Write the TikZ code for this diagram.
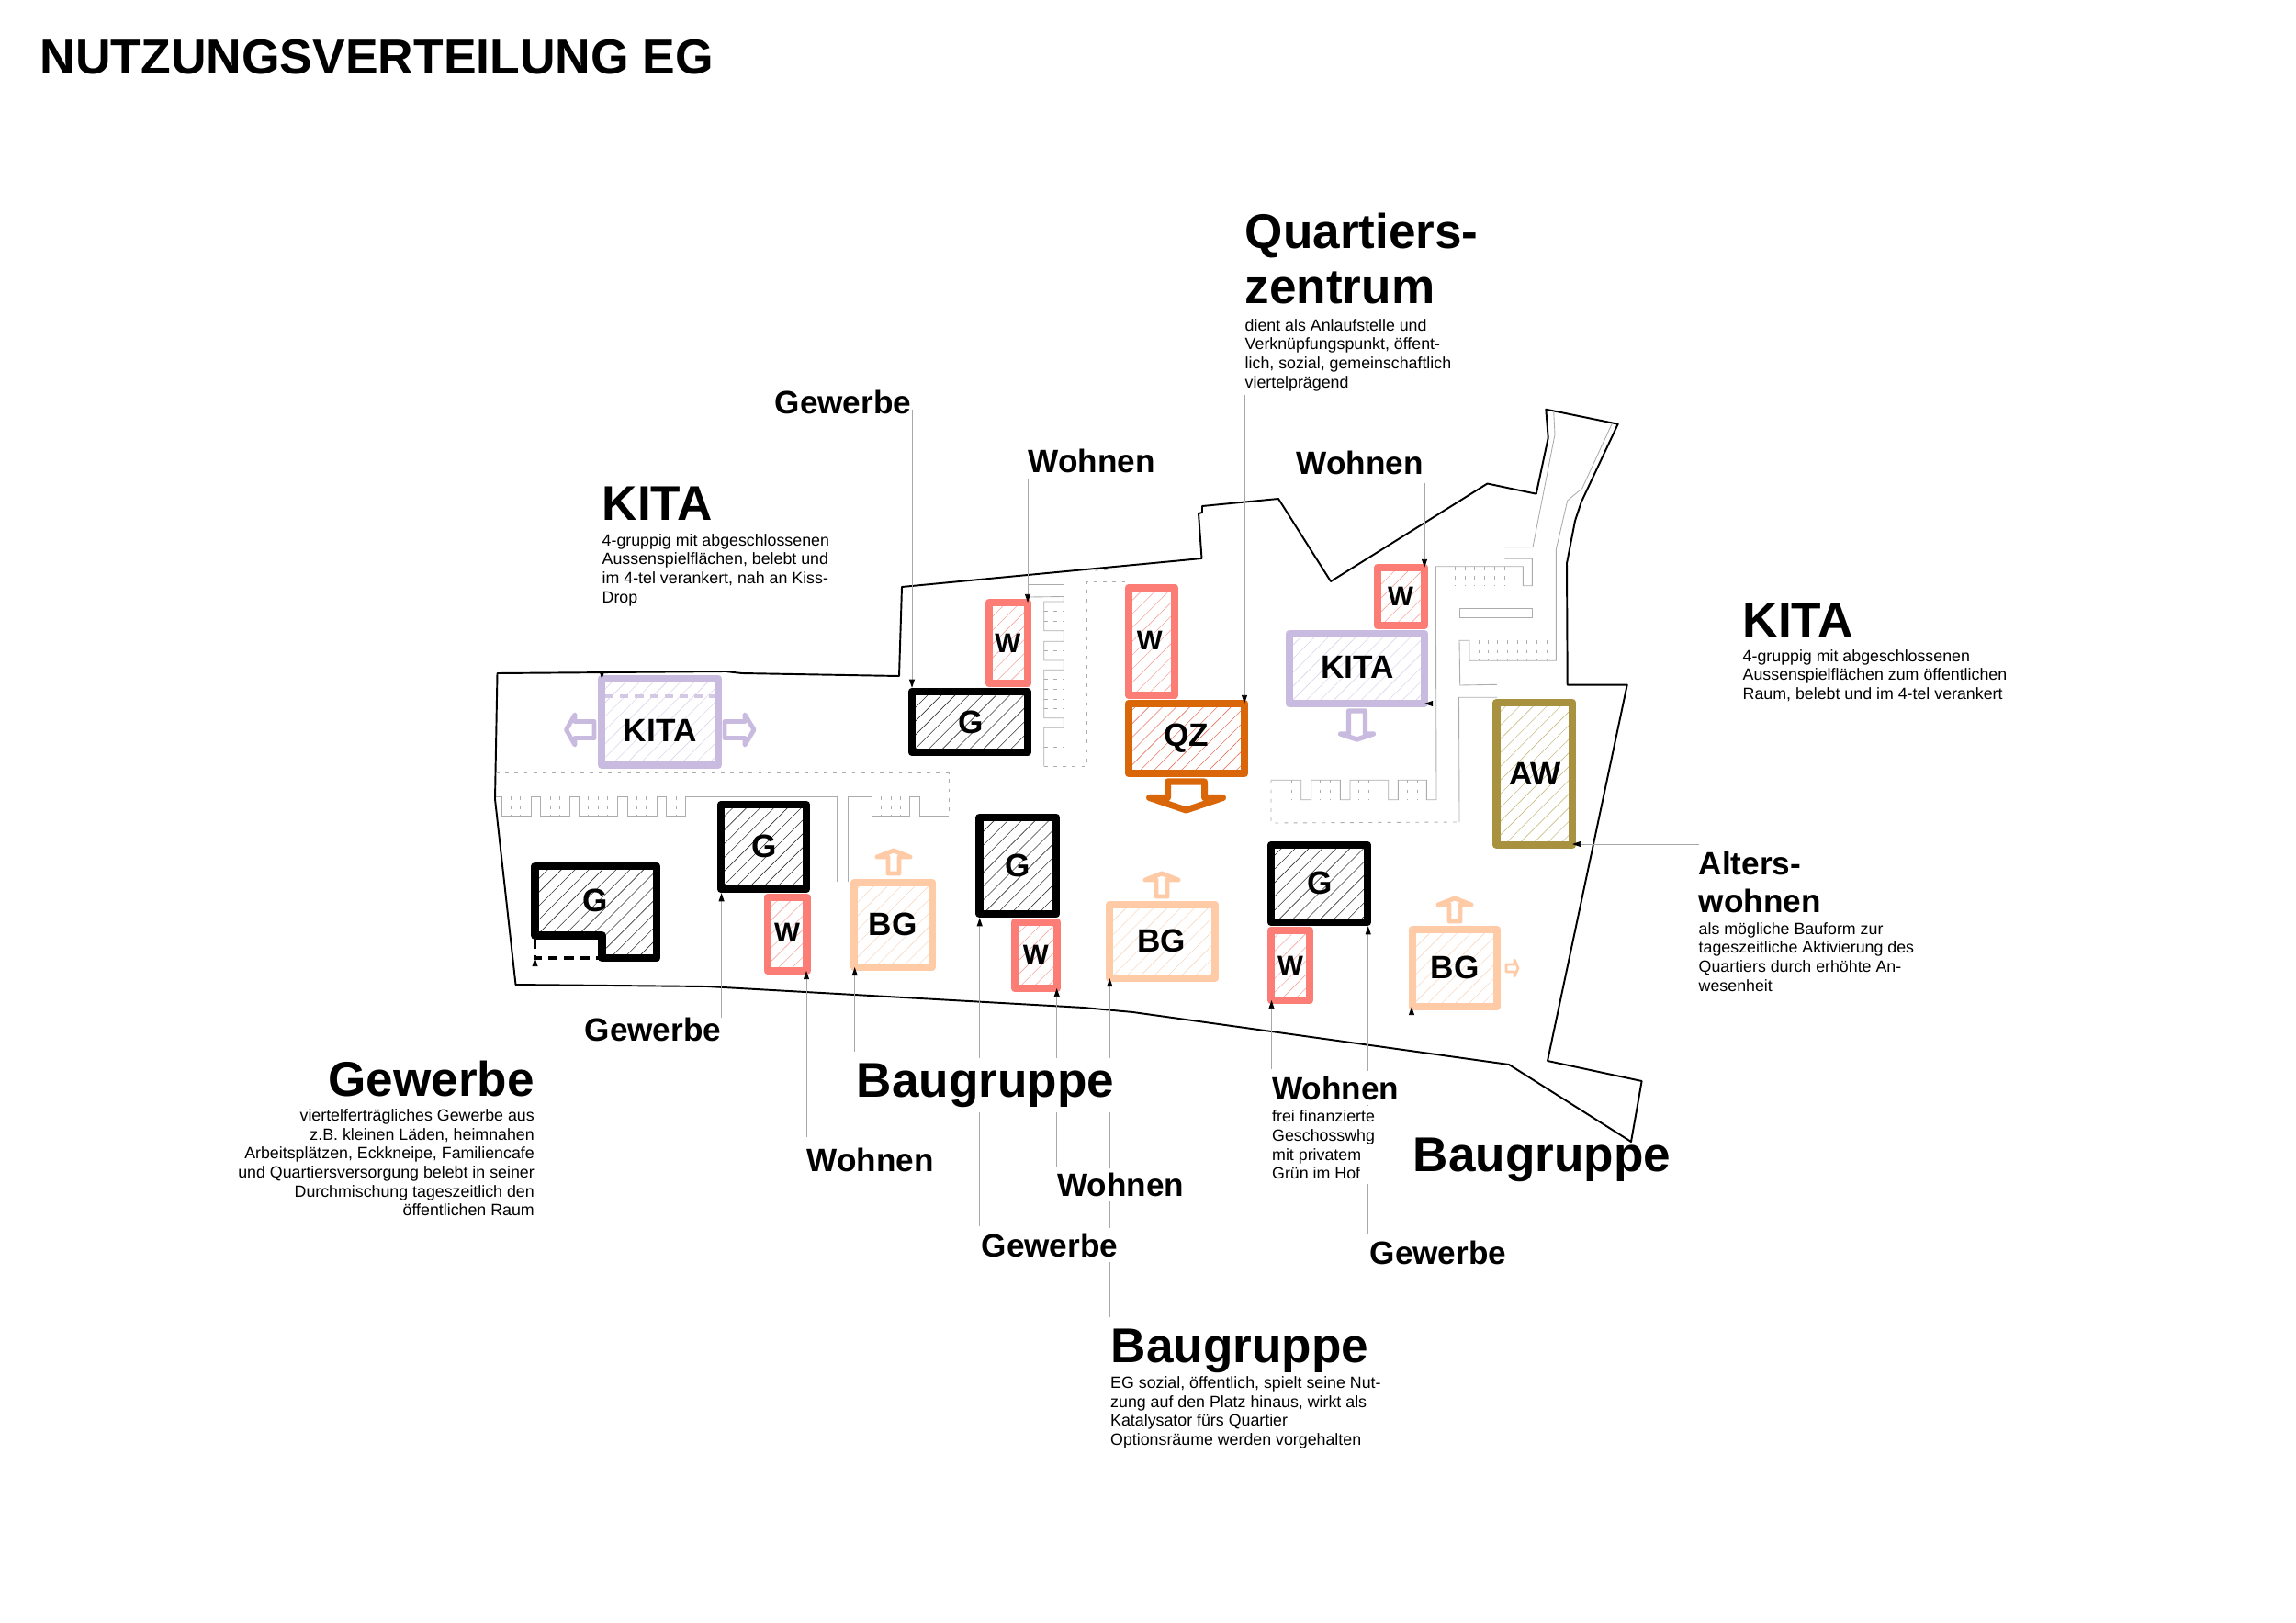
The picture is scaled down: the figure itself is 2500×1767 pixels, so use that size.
\documentclass[tikz,border=0pt]{standalone}
\usepackage{fontspec}
\setmainfont{Liberation Sans}
\usetikzlibrary{arrows.meta,patterns.meta}

\definecolor{wred}{HTML}{FB7D75}
\definecolor{wredh}{HTML}{F5A5A0}
\definecolor{kitalila}{HTML}{C9BBDF}
\definecolor{kitalilah}{HTML}{DCD3EA}
\definecolor{bgpeach}{HTML}{FFCAA6}
\definecolor{bgpeachh}{HTML}{F7D8C2}
\definecolor{qzorange}{HTML}{D9670A}
\definecolor{qzorangeh}{HTML}{E8745F}
\definecolor{awolive}{HTML}{A8923F}
\definecolor{awoliveh}{HTML}{C9BC85}
\definecolor{leadergray}{HTML}{A8A8A8}
\definecolor{parkgray}{HTML}{ACACAC}

\newcommand{\blockarrow}[7]{\draw[#1, shift={(#2)}, rotate=#3] (-#4,0) -- (-#4,#5) -- (-#6,#5) -- (0,#5+#7) -- (#6,#5) -- (#4,#5) -- (#4,0) -- cycle;}

\begin{document}
\begin{tikzpicture}[x=0.01cm, y=-0.01cm, every node/.style={inner sep=0pt},
    site/.style={line width=0.55pt, line join=round},
    parkline/.style={parkgray, line width=0.25pt},
    parkdash/.style={parkgray, line width=0.25pt, dash pattern=on 1.1pt off 1.8pt},
    leader/.style={leadergray, line width=0.25pt, -{Triangle[length=2.6pt,width=1.7pt,color=black]}},
    hatch/.style={pattern={Lines[angle=45,distance=3pt,line width=0.17pt]}},
    gbox/.style={draw=black, line width=2.4pt, line join=round, hatch, pattern color=black!80},
    wbox/.style={draw=wred, line width=2.4pt, outer sep=0pt, line join=round, hatch, pattern color=wredh},
    kitabox/.style={draw=kitalila, line width=2.4pt, outer sep=0pt, line join=round, hatch, pattern color=kitalilah},
    bgbox/.style={draw=bgpeach, line width=2.4pt, outer sep=0pt, line join=round, hatch, pattern color=bgpeachh},
    qzbox/.style={draw=qzorange, line width=2.4pt, outer sep=0pt, line join=round, hatch, pattern color=qzorangeh},
    awbox/.style={draw=awolive, line width=2.4pt, outer sep=0pt, line join=round, hatch, pattern color=awoliveh},
    boxtext/.style={font=\fontsize{10}{11}\selectfont\bfseries},
    wtext/.style={font=\fontsize{8.4}{10}\selectfont\bfseries},
    bighead/.style={font=\fontsize{15.1}{17.2}\selectfont\bfseries, align=left},
    midhead/.style={font=\fontsize{10}{11.5}\selectfont\bfseries, align=left},
    desc/.style={font=\fontsize{5.06}{5.87}\selectfont, align=left},
    gapped/.style={fill=white, inner ysep=1.5pt}]
  \useasboundingbox (0,0) rectangle (2500,1767);

  \draw[site] (541.5,733) -- (790,731) -- (808,733) -- (979,736) -- (982,639) -- (1308.5,608) -- (1305,559) -- (1309,558) -- (1309,551) -- (1392,543) -- (1449,633) -- (1619.5,526.5) -- (1672.7,537.7) -- (1685.7,476.7) -- (1683.3,445.7) -- (1761.7,461.7) -- (1721.7,546.7) -- (1715,567) -- (1706,613.3) -- (1706.7,745.7) -- (1771.7,745.7) -- (1685,1155) -- (1787.6,1177) -- (1776,1243) -- (1643,1159) -- (1233.6,1102) -- (1180,1097) -- (770,1074) -- (561.5,1072) -- (539,870) -- cycle;

  \draw[parkdash] (540,841.7) -- (1033,841.7) -- (1033,887);
  \draw[parkline] (540,867) -- (546.7,867) -- (546.7,888) -- (578,888) -- (578,867) -- (588.7,867) -- (588.7,888) -- (620.7,888) -- (620.7,867) -- (630.7,867) -- (630.7,888) -- (672.7,888) -- (672.7,867) -- (683,867) -- (683,888) -- (715,888) -- (715,867) -- (725.7,867) -- (725.7,888) -- (746.7,888) -- (746.7,867) -- (911.7,867) -- (911.7,960);
  \draw[parkline] (923.3,960) -- (923.3,867) -- (949,867) -- (949,888) -- (990.7,888) -- (990.7,867) -- (1001.7,867) -- (1001.7,888) -- (1033,888);
  \foreach \x in {556.7,566.7,599,609.3,640.7,651,661.7,693.3,703.3,736,959.3,970,980.7,1011.7}
    \draw[parkdash] (\x,867) -- (\x,888);

  \draw[parkline] (1119,636.7) -- (1158.3,636.7) -- (1158.3,623);
  \draw[parkline] (1120.7,650) -- (1158.3,649.5) -- (1158.3,655) -- (1136.7,655) -- (1136.7,686.7) -- (1158.3,686.7) -- (1158.3,698.3) -- (1136.7,698.3) -- (1136.7,719) -- (1158.3,719) -- (1158.3,729.3) -- (1136.7,729.3) -- (1136.7,781.7) -- (1158.3,781.7) -- (1158.3,792.3) -- (1136.7,792.3) -- (1136.7,834);
  \draw[parkdash] (1136.7,834) -- (1183.3,834) -- (1183.3,633.3) -- (1229,633.3);
  \draw[parkdash] (1192,621) -- (1228,619);
  \foreach \y in {665.7,676.7,708.3,739.3,750,761,771.7,803.3,813.3}
    \draw[parkdash] (1136.7,\y) -- (1158.3,\y);

  \draw[parkdash] (1384,849.3) -- (1384,896) -- (1589,895);
  \draw[parkline] (1384,849.3) -- (1416.7,849.3) -- (1416.7,870.7) -- (1427.7,870.7) -- (1427.7,849.3) -- (1459.3,849.3) -- (1459.3,870.7) -- (1470,870.7) -- (1470,849.3) -- (1511.7,849.3) -- (1511.7,870.7) -- (1522.3,870.7) -- (1522.3,849.3) -- (1553.3,849.3) -- (1553.3,870.7) -- (1564,870.7) -- (1563.3,616.7) -- (1658.3,616.7) -- (1658.3,637.7) -- (1668.3,637.7) -- (1668.3,608.3) -- (1638.3,608.3);
  \draw[parkline] (1630,759.3) -- (1588.5,759.3) -- (1589,895);
  \foreach \x in {1406.7,1437.7,1448.7,1479.3,1490.7,1501,1532.7,1543.3}
    \draw[parkdash] (\x,849.3) -- (\x,870.7);
  \draw[parkline] (1691.7,448.3) -- (1693,473) -- (1669,595.7) -- (1637.7,595.7);
  \draw[parkline] (1755,461.7) -- (1722.7,531.7) -- (1706.7,545) -- (1694.3,598.3) -- (1694.3,719.3) -- (1600,719.3) -- (1600,697.3) -- (1589,697.3) -- (1589.7,746) -- (1630,745.3);
  \draw[parkline] (1589,662.7) rectangle (1668.3,672.7);
  \foreach \x in {1574.3,1584.3,1595,1605.7,1616,1627.3,1638.3,1648.3}
    \draw[parkdash] (\x,616.7) -- (\x,638);
  \foreach \x in {1610,1620,1630.7,1641.7,1652.3,1662.7,1673.3,1684}
    \draw[parkdash] (\x,697.3) -- (\x,719.3);

  \node (kitaL) [kitabox, minimum width=1.27cm, minimum height=0.935cm] at (718.5,786) {};
  \node (g1) [gbox, minimum width=1.26cm, minimum height=0.66cm] at (1056,786) {};
  \node (w1) [wbox, minimum width=0.42cm, minimum height=0.88cm] at (1098,700) {};
  \node (g2) [gbox, minimum width=0.93cm, minimum height=0.92cm] at (831.5,922) {};
  \node (w2) [wbox, minimum width=0.426cm, minimum height=0.8cm] at (857.3,1017) {};
  \node (bg1) [bgbox, minimum width=0.85cm, minimum height=0.92cm] at (972.5,1007) {};
  \node (g3) [gbox, minimum width=0.835cm, minimum height=1.05cm] at (1108.2,942.5) {};
  \node (w3) [wbox, minimum width=0.46cm, minimum height=0.72cm] at (1128,1040) {};
  \node (w4) [wbox, minimum width=0.5cm, minimum height=1.17cm] at (1254,698.5) {};
  \node (qz) [qzbox, minimum width=1.26cm, minimum height=0.76cm] at (1292,804) {};
  \node (w5) [wbox, minimum width=0.51cm, minimum height=0.63cm] at (1525.5,649.5) {};
  \node (kitaR) [kitabox, minimum width=1.47cm, minimum height=0.76cm] at (1477.5,728) {};
  \node (bg2) [bgbox, minimum width=1.15cm, minimum height=0.8cm] at (1265.5,1025) {};
  \node (g4) [gbox, minimum width=1.05cm, minimum height=0.84cm] at (1436.5,962) {};
  \node (w6) [wbox, minimum width=0.42cm, minimum height=0.76cm] at (1405,1051) {};
  \node (bg3) [bgbox, minimum width=0.92cm, minimum height=0.84cm] at (1584,1054) {};

  \draw[black, line width=2.4pt, line join=round, hatch, pattern color=black!80] (582.5,943) -- (715,943) -- (715,1043) -- (655.5,1043) -- (655.5,1018.5) -- (582.5,1018.5) -- cycle;
  \coordinate (gLcorner) at (582.5,1043);
  \draw[black, line width=1pt, dash pattern=on 3pt off 2pt] (582.5,1022) -- (gLcorner) -- (652,1043);
  \draw[kitalilah!60!kitalila, line width=1.1pt, dash pattern=on 2.6pt off 2pt] (659,757.7) -- (778,757.7);

  \coordinate (kitaRfoot) at (1897,766);
  \draw[leader] (kitaRfoot) -- (kitaRfoot -| kitaR.east);
  \node (aw) [awbox, minimum width=0.825cm, minimum height=1.55cm] at (1670.7,842.5) {};

  \blockarrow{kitalila, line width=1.4pt, line join=round}{647,794.5}{-90}{9}{21}{16.5}{9.5}
  \blockarrow{kitalila, line width=1.4pt, line join=round}{789,794.5}{90}{9}{22}{16.5}{10}
  \blockarrow{kitalila, line width=1.5pt, line join=round}{1477.5,774}{0}{9}{25}{18}{6}
  \blockarrow{qzorange, line width=2pt, line join=round}{1291.5,851}{0}{20}{17.5}{40}{13.5}
  \blockarrow{bgpeach, line width=1.4pt, line join=round}{973,951}{180}{6}{18}{18}{7}
  \blockarrow{bgpeach, line width=1.4pt, line join=round}{1265,976}{180}{6}{18}{18}{7}
  \blockarrow{bgpeach, line width=1.4pt, line join=round}{1584,1003}{180}{6}{18}{18}{7}
  \blockarrow{bgpeach, line width=0.8pt, line join=round}{1640,1054}{90}{4}{9}{9}{4}

  \coordinate (kitaLfoot) at (655.4,665);
  \coordinate (g1foot) at (993,446);
  \coordinate (w1foot) at (1119,521);
  \coordinate (qzfoot) at (1355,430);
  \coordinate (w5foot) at (1551,526);
  \coordinate (awfoot) at (1850,919);
  \coordinate (gLfoot) at (582.5,1143);
  \coordinate (g2foot) at (785.6,1108);
  \coordinate (w2foot) at (878,1238);
  \coordinate (bg1foot) at (930.7,1145);
  \coordinate (g3foot) at (1066.7,1335);
  \coordinate (w3foot) at (1150.7,1270);
  \coordinate (bg2foot) at (1208.3,1434);
  \coordinate (w6foot) at (1384.5,1164);
  \coordinate (g4foot) at (1489.7,1343);
  \coordinate (bg3foot) at (1537,1226);

  \draw[leader] (kitaLfoot) -- (kitaLfoot |- kitaL.north);
  \draw[leader] (g1foot) -- (g1foot |- g1.north);
  \draw[leader] (w1foot) -- (w1foot |- w1.north);
  \draw[leader] (qzfoot) -- (qzfoot |- qz.north);
  \draw[leader] (w5foot) -- (w5foot |- w5.north);
  \draw[leader] (awfoot) -- (awfoot -| aw.east);
  \draw[leader] (gLfoot) -- (gLcorner);
  \draw[leader] (g2foot) -- (g2foot |- g2.south);
  \draw[leader] (w2foot) -- (w2foot |- w2.south);
  \draw[leader] (bg1foot) -- (bg1foot |- bg1.south);
  \draw[leader] (g3foot) -- (g3foot |- g3.south);
  \draw[leader] (w3foot) -- (w3foot |- w3.south);
  \draw[leader] (bg2foot) -- (bg2foot |- bg2.south);
  \draw[leader] (w6foot) -- (w6foot |- w6.south);
  \draw[leader] (g4foot) -- (g4foot |- g4.south);
  \draw[leader] (bg3foot) -- (bg3foot |- bg3.south);

  \node (kitaLtxt) [boxtext] at (718.7,795) {KITA};
  \node (g1txt) [boxtext] at (1056.7,786) {G};
  \node (w1txt) [wtext] at (1097.3,700) {W};
  \node (gLtxt) [boxtext] at (648,980) {G};
  \node (g2txt) [boxtext] at (832.6,921.7) {G};
  \node (w2txt) [wtext] at (857,1015.7) {W};
  \node (bg1txt) [boxtext] at (972.3,1006) {BG};
  \node (g3txt) [boxtext] at (1108.5,942.7) {G};
  \node (w3txt) [wtext] at (1127.7,1039) {W};
  \node (w4txt) [wtext] at (1251.8,697.7) {W};
  \node (qztxt) [boxtext] at (1292,803.3) {QZ};
  \node (w5txt) [wtext] at (1525,649.3) {W};
  \node (kitaRtxt) [boxtext] at (1478,726.7) {KITA};
  \node (awtxt) [boxtext] at (1671.4,842.7) {AW};
  \node (bg2txt) [boxtext] at (1264.8,1024.3) {BG};
  \node (g4txt) [boxtext] at (1437,961.7) {G};
  \node (w6txt) [wtext] at (1405,1051) {W};
  \node (bg3txt) [boxtext] at (1584,1053.3) {BG};

  \node (title) [anchor=base west, font=\fontsize{15.2}{17}\selectfont\bfseries] at (43,81) {NUTZUNGSVERTEILUNG EG};

  \node (kitaLhead) [bighead, anchor=base west] at (655,566) {KITA};
  \node (kitaLdesc) [desc, anchor=north west] at (655,580.5) {4-gruppig mit abgeschlossenen\\Aussenspielflächen, belebt und\\im 4-tel verankert, nah an Kiss-\\Drop};
  \node (kitaRhead) [bighead, anchor=base west] at (1897,693) {KITA};
  \node (kitaRdesc) [desc, anchor=north west] at (1897,706.5) {4-gruppig mit abgeschlossenen\\Aussenspielflächen zum öffentlichen\\Raum, belebt und im 4-tel verankert};
  \node (qzhead) [bighead, anchor=north west] at (1355,231) {Quartiers-\\zentrum};
  \node (qzdesc) [desc, anchor=north west] at (1355,346.5) {dient als Anlaufstelle und\\Verknüpfungspunkt, öffent-\\lich, sozial, gemeinschaftlich\\viertelprägend};
  \node (awhead) [midhead, anchor=north west] at (1849,926.5) {Alters-\\wohnen};
  \node (awdesc) [desc, anchor=north west] at (1849,1003.5) {als mögliche Bauform zur\\tageszeitliche Aktivierung des\\Quartiers durch erhöhte An-\\wesenheit};
  \node (gLhead) [bighead, anchor=base east] at (582.5,1193) {Gewerbe};
  \node (gLdesc) [desc, align=right, anchor=north east] at (582.5,1207) {viertelferträgliches Gewerbe aus\\z.B. kleinen Läden, heimnahen\\Arbeitsplätzen, Eckkneipe, Familiencafe\\und Quartiersversorgung belebt in seiner\\Durchmischung tageszeitlich den\\öffentlichen Raum};
  \node (bg1head) [bighead, gapped, anchor=base west] at (932,1194) {Baugruppe};
  \node (bg3head) [bighead, anchor=base west] at (1538,1275) {Baugruppe};
  \node (bg2head) [bighead, anchor=base west] at (1209,1483) {Baugruppe};
  \node (bg2desc) [desc, anchor=north west] at (1208.5,1498) {EG sozial, öffentlich, spielt seine Nut-\\zung auf den Platz hinaus, wirkt als\\Katalysator fürs Quartier\\Optionsräume werden vorgehalten};
  \node (w6head) [midhead, gapped, anchor=base west] at (1384.5,1197) {Wohnen};
  \node (w6desc) [desc, gapped, anchor=north west] at (1384.5,1203) {frei finanzierte\\Geschosswhg\\mit privatem\\Grün im Hof};

  \node (g1head) [midhead, anchor=base west] at (843,450) {Gewerbe};
  \node (w1head) [midhead, anchor=base west] at (1119,514.5) {Wohnen};
  \node (w5head) [midhead, anchor=base west] at (1411,516.5) {Wohnen};
  \node (g2head) [midhead, anchor=base west] at (636,1133) {Gewerbe};
  \node (w2head) [midhead, anchor=base west] at (878,1275) {Wohnen};
  \node (w3head) [midhead, gapped, anchor=base west] at (1150.7,1302.7) {Wohnen};
  \node (g3head) [midhead, gapped, anchor=base west] at (1068,1368) {Gewerbe};
  \node (g4head) [midhead, anchor=base west] at (1491,1376.7) {Gewerbe};
\end{tikzpicture}
\end{document}
